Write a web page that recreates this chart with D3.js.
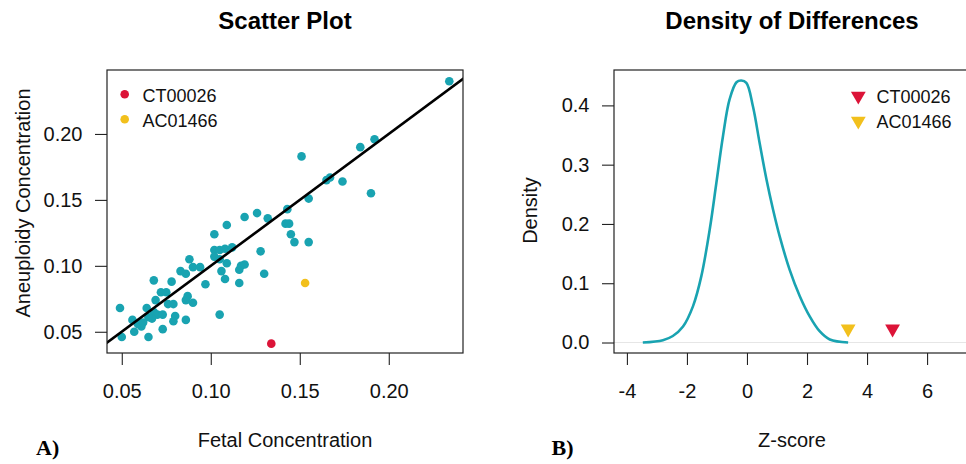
<!DOCTYPE html>
<html>
<head>
<meta charset="utf-8">
<script src="https://cdn.jsdelivr.net/npm/d3@7"></script>
<style>
  body { margin: 0; background: #fff; }
  svg { display: block; font-family: "Liberation Sans", Arial, sans-serif; }
</style>
</head>
<body>
<svg id="chart" width="966" height="464"></svg>
<script>
// scatter data
const fetal = [0.234, 0.184, 0.192, 0.151, 0.165, 0.167, 0.174, 0.190, 0.155, 0.143,
  0.126, 0.119, 0.132, 0.109, 0.142, 0.144, 0.102, 0.145, 0.147, 0.155,
  0.102, 0.105, 0.108, 0.112, 0.102, 0.105, 0.128, 0.109, 0.106, 0.108,
  0.116, 0.117, 0.119, 0.130, 0.116, 0.088, 0.090, 0.094, 0.083, 0.086,
  0.078, 0.068, 0.097, 0.072, 0.075, 0.069, 0.076, 0.079, 0.087, 0.086,
  0.090, 0.064, 0.049, 0.068, 0.070, 0.067, 0.073, 0.080, 0.079, 0.086,
  0.105, 0.056, 0.061, 0.057, 0.050, 0.065, 0.073, 0.059, 0.065, 0.062]
const aneuploidy = [0.240, 0.190, 0.196, 0.183, 0.165, 0.167, 0.164, 0.155, 0.151, 0.143,
  0.140, 0.137, 0.136, 0.131, 0.132, 0.132, 0.124, 0.124, 0.118, 0.118,
  0.112, 0.112, 0.113, 0.114, 0.107, 0.105, 0.111, 0.102, 0.096, 0.090,
  0.097, 0.100, 0.101, 0.094, 0.087, 0.105, 0.099, 0.099, 0.096, 0.094,
  0.088, 0.089, 0.086, 0.080, 0.080, 0.074, 0.071, 0.071, 0.077, 0.074,
  0.072, 0.068, 0.068, 0.065, 0.063, 0.060, 0.063, 0.062, 0.058, 0.059,
  0.063, 0.059, 0.054, 0.050, 0.046, 0.046, 0.052, 0.056, 0.061, 0.057]

const samples = ['CT00026', 'AC01466']
const sampleColors = ['#dc1438', '#f2c01c']
const sampleFetal = [0.134, 0.153]
const sampleAneuploidy = [0.041, 0.087]
const sampleZ = [4.85, 3.37]

// density curve of z-scores
const densX = [-3.47, -2.8, -2.47, -2.13, -1.8, -1.52, -1.24, -1.02, -0.8, -0.58,
  -0.35, -0.19, -0.02, 0.2, 0.42, 0.65, 0.87, 1.09, 1.42, 1.76,
  2.09, 2.42, 2.76, 3.37]
const densY = [0.0, 0.004, 0.011, 0.027, 0.061, 0.112, 0.191, 0.269, 0.348, 0.410,
  0.439, 0.442, 0.438, 0.398, 0.337, 0.275, 0.224, 0.179, 0.123, 0.078,
  0.044, 0.019, 0.005, 0.0]

const scatterTicks = [0.05, 0.10, 0.15, 0.20]
const zTicks = [-4, -2, 0, 2, 4, 6]
const densTicks = [0, 0.1, 0.2, 0.3, 0.4]

const teal = '#19a3b1'
const svg = d3.select('#chart')
svg.append('rect').attr('width', 966).attr('height', 464).attr('fill', '#fff')

const axisFont = 20
const legendFont = 18
const titleFont = 24

function drawAxes(g, x, y, xt, yt, fmtX, fmtY, box) {
	const xa = g.append('g')
		.attr('transform', `translate(0, ${box.bottom})`)
		.call(d3.axisBottom(x).tickValues(xt).tickFormat(fmtX).tickSize(12).tickPadding(18.5))
	const ya = g.append('g')
		.attr('transform', `translate(${box.left}, 0)`)
		.call(d3.axisLeft(y).tickValues(yt).tickFormat(fmtY).tickSize(12).tickPadding(12.5))
	for (const a of [xa, ya]) {
		a.select('.domain').remove()
		a.selectAll('line').attr('stroke', '#222').attr('stroke-width', 1.1)
		a.selectAll('text').attr('font-size', axisFont).attr('fill', '#111')
			.attr('font-family', '"Liberation Sans", Arial, sans-serif')
	}
}

// ---- A) scatter plot
const boxA = { left: 107, right: 463, top: 70, bottom: 353 }
const xA = d3.scaleLinear().domain([0.0417, 0.2417]).range([boxA.left, boxA.right])
const yA = d3.scaleLinear().domain([0.0339, 0.2485]).range([boxA.bottom, boxA.top])

const gA = svg.append('g')
svg.append('clipPath').attr('id', 'clipA').append('rect')
	.attr('x', boxA.left).attr('y', boxA.top)
	.attr('width', boxA.right - boxA.left).attr('height', boxA.bottom - boxA.top)

gA.append('g').selectAll('circle')
	.data(d3.range(fetal.length))
	.join('circle')
	.attr('cx', i => xA(fetal[i]))
	.attr('cy', i => yA(aneuploidy[i]))
	.attr('r', 4.3)
	.attr('fill', teal)

gA.append('g').selectAll('circle')
	.data(samples)
	.join('circle')
	.attr('cx', (d, i) => xA(sampleFetal[i]))
	.attr('cy', (d, i) => yA(sampleAneuploidy[i]))
	.attr('r', 4.3)
	.attr('fill', (d, i) => sampleColors[i])

// identity line
gA.append('line')
	.attr('clip-path', 'url(#clipA)')
	.attr('x1', xA(0.03)).attr('y1', yA(0.03))
	.attr('x2', xA(0.26)).attr('y2', yA(0.26))
	.attr('stroke', '#000').attr('stroke-width', 2.6)

gA.append('rect')
	.attr('x', boxA.left).attr('y', boxA.top)
	.attr('width', boxA.right - boxA.left).attr('height', boxA.bottom - boxA.top)
	.attr('fill', 'none').attr('stroke', '#222').attr('stroke-width', 1.2)

drawAxes(gA, xA, yA, scatterTicks, scatterTicks, d3.format('.2f'), d3.format('.2f'), boxA)

const legA = gA.append('g')
samples.forEach((s, i) => {
	legA.append('circle').attr('cx', 124.7).attr('cy', 94.3 + i * 25).attr('r', 4.3).attr('fill', sampleColors[i])
	legA.append('text').attr('x', 142.5).attr('y', 101.7 + i * 25).attr('font-size', legendFont).attr('fill', '#111').text(s)
})

gA.append('text').attr('x', (boxA.left + boxA.right) / 2).attr('y', 28.5)
	.attr('text-anchor', 'middle').attr('font-size', titleFont).attr('font-weight', 'bold').text('Scatter Plot')
gA.append('text').attr('x', (boxA.left + boxA.right) / 2).attr('y', 446.7)
	.attr('text-anchor', 'middle').attr('font-size', axisFont).attr('fill', '#111').text('Fetal Concentration')
gA.append('text').attr('transform', 'translate(29.5, 203) rotate(-90)')
	.attr('text-anchor', 'middle').attr('font-size', axisFont).attr('fill', '#111').text('Aneuploidy Concentration')
gA.append('text').attr('x', 36).attr('y', 455).attr('font-size', 22).attr('font-weight', 'bold')
	.attr('font-family', '"Liberation Serif", "Times New Roman", serif').text('A)')

// ---- B) density of differences
const boxB = { left: 614, right: 970, top: 70, bottom: 353 }
const xB = d3.scaleLinear().domain([-4.43, 7.43]).range([boxB.left, boxB.right])
const yB = d3.scaleLinear().domain([-0.0177, 0.4597]).range([boxB.bottom, boxB.top])

const gB = svg.append('g')

gB.append('line')
	.attr('x1', boxB.left).attr('x2', boxB.right)
	.attr('y1', yB(0)).attr('y2', yB(0))
	.attr('stroke', '#e6e6e6').attr('stroke-width', 1.2)

gB.append('path')
	.datum(d3.range(densX.length))
	.attr('d', d3.line().x(i => xB(densX[i])).y(i => yB(densY[i])).curve(d3.curveCatmullRom.alpha(0.5)))
	.attr('fill', 'none').attr('stroke', teal).attr('stroke-width', 2.6)

const tri = d3.symbol().type(d3.symbolTriangle).size(95)
gB.append('g').selectAll('path')
	.data(samples)
	.join('path')
	.attr('d', tri)
	.attr('transform', (d, i) => `translate(${xB(sampleZ[i])}, ${yB(0.023)}) rotate(180)`)
	.attr('fill', (d, i) => sampleColors[i])

gB.append('rect')
	.attr('x', boxB.left).attr('y', boxB.top)
	.attr('width', boxB.right - boxB.left).attr('height', boxB.bottom - boxB.top)
	.attr('fill', 'none').attr('stroke', '#222').attr('stroke-width', 1.2)

drawAxes(gB, xB, yB, zTicks, densTicks, d3.format('d'), d3.format('.1f'), boxB)
gB.selectAll('text').filter(function() { return this.textContent.startsWith('−') })
	.text(function() { return this.textContent.replace('−', '-') })

const legB = gB.append('g')
samples.forEach((s, i) => {
	legB.append('path').attr('d', tri).attr('transform', `translate(858.3, ${96 + i * 25}) rotate(180)`).attr('fill', sampleColors[i])
	legB.append('text').attr('x', 876.5).attr('y', 102.7 + i * 25).attr('font-size', legendFont).attr('fill', '#111').text(s)
})

gB.append('text').attr('x', 792).attr('y', 28.5)
	.attr('text-anchor', 'middle').attr('font-size', titleFont).attr('font-weight', 'bold').text('Density of Differences')
gB.append('text').attr('x', 792).attr('y', 446.7)
	.attr('text-anchor', 'middle').attr('font-size', axisFont).attr('fill', '#111').text('Z-score')
gB.append('text').attr('transform', 'translate(536.5, 210.5) rotate(-90)')
	.attr('text-anchor', 'middle').attr('font-size', axisFont).attr('fill', '#111').text('Density')
gB.append('text').attr('x', 551.5).attr('y', 455).attr('font-size', 22).attr('font-weight', 'bold')
	.attr('font-family', '"Liberation Serif", "Times New Roman", serif').text('B)')
</script>
</body>
</html>
